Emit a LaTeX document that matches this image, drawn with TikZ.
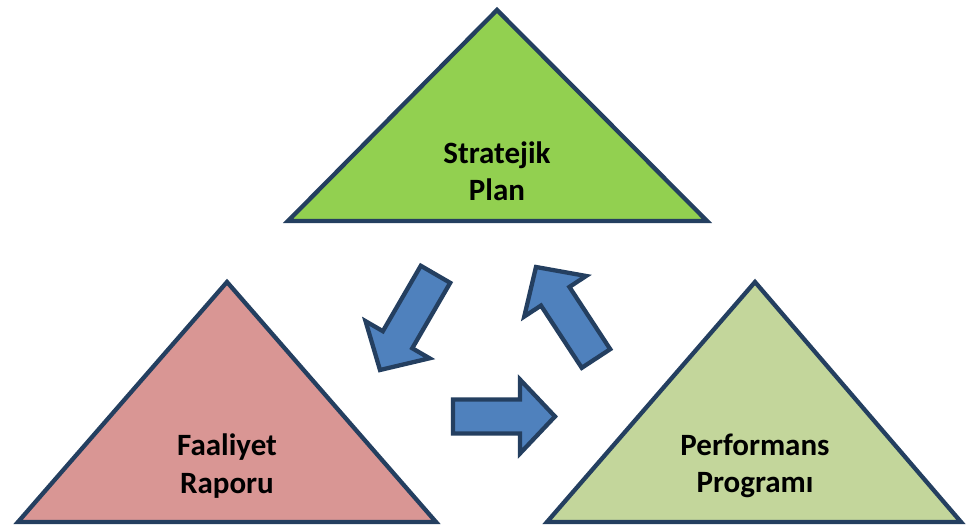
\documentclass[tikz,border=0pt]{standalone}
\usepackage{fontspec}
\setmainfont{Carlito}
\usetikzlibrary{calc}
\definecolor{edgeblue}{HTML}{243F60}
\definecolor{topgreen}{HTML}{92D050}
\definecolor{leftpink}{HTML}{D99694}
\definecolor{rightgreen}{HTML}{C3D69B}
\definecolor{arrowblue}{HTML}{4F81BD}
\tikzset{
  tri/.style={draw=edgeblue, line width=4.3pt, line join=miter},
  blockarrowstyle/.style={draw=edgeblue, fill=arrowblue, line width=4.3pt, line join=miter},
  lbl/.style={font=\bfseries\fontsize{31}{37.5}\selectfont, align=center, text=black, inner sep=0pt}
}
\newcommand\blockarrow[2]{%
  \coordinate (#1-b) at ($(#2)!35pt!(#1)$);
  \draw[blockarrowstyle] ($(#1)!17pt!90:(#2)$) -- ($(#1-b)!17pt!90:(#2)$) -- ($(#1-b)!37pt!90:(#2)$) -- (#2) -- ($(#1-b)!37pt!-90:(#2)$) -- ($(#1-b)!17pt!-90:(#2)$) -- ($(#1)!17pt!-90:(#2)$) -- cycle;
}
\begin{document}
\begin{tikzpicture}[x=1pt,y=-1pt]
\useasboundingbox (0,0) rectangle (970,529);
% triangles
\coordinate (t-apex) at (497,10);
\coordinate (t-l) at (288,221);
\coordinate (t-r) at (707,221);
\coordinate (l-apex) at (227,282);
\coordinate (l-l) at (18,522);
\coordinate (l-r) at (436,522);
\coordinate (r-apex) at (755,282);
\coordinate (r-l) at (547,522);
\coordinate (r-r) at (961,522);
\draw[tri, fill=topgreen] (t-apex) -- (t-r) -- (t-l) -- cycle;
\draw[tri, fill=leftpink] (l-apex) -- (l-r) -- (l-l) -- cycle;
\draw[tri, fill=rightgreen] (r-apex) -- (r-r) -- (r-l) -- cycle;
\node[lbl] (sp) at (497,171) {Stratejik\\Plan};
\node[lbl] (fr) at (227,466) {Faaliyet\\Raporu};
\node[lbl] (pp) at (755,466) {Performans\\Programı};
% arrows
\coordinate (a1s) at (435.5,274.3);
\coordinate (a1t) at (380,370);
\coordinate (a3s) at (453,416.5);
\coordinate (a3t) at (555,416.5);
\coordinate (a2s) at (596,358.5);
\coordinate (a2t) at (536,267);
\blockarrow{a1s}{a1t}
\blockarrow{a3s}{a3t}
\blockarrow{a2s}{a2t}
\end{tikzpicture}
\end{document}
